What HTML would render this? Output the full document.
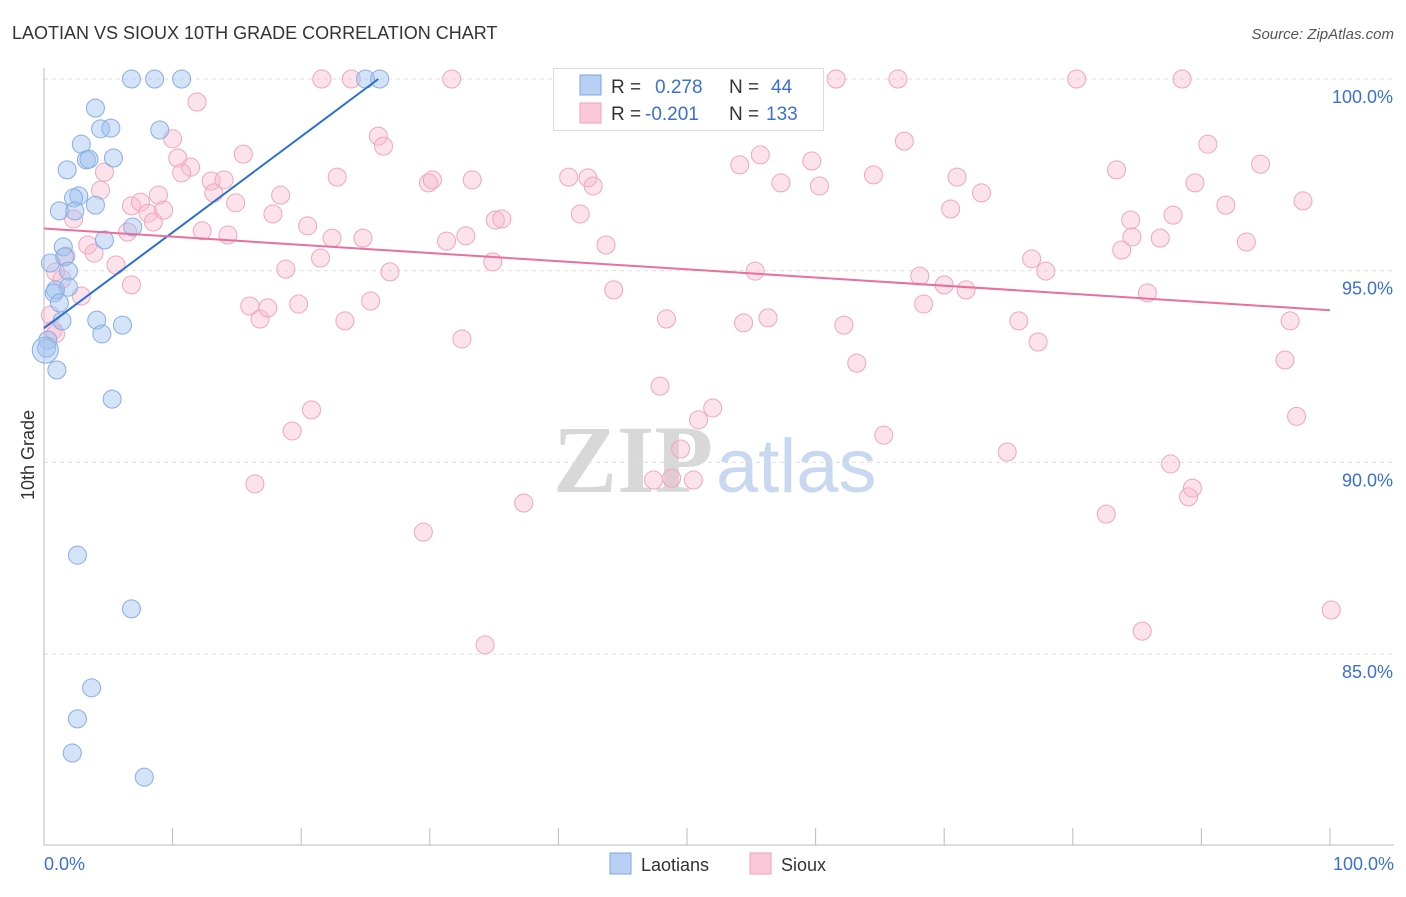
<!DOCTYPE html>
<html><head><meta charset="utf-8"><style>
body{margin:0;background:#fff;font-family:"Liberation Sans",sans-serif}
</style></head><body>
<svg width="1406" height="892" xmlns="http://www.w3.org/2000/svg" id="chart" font-family="Liberation Sans, sans-serif">
<text x="12" y="39" font-size="18" fill="#333">LAOTIAN VS SIOUX 10TH GRADE CORRELATION CHART</text>
<text x="1394" y="39" font-size="15" fill="#555" font-style="italic" text-anchor="end">Source: ZipAtlas.com</text>
<g>
<text x="553" y="492" font-size="96" fill="#d8d8d8" font-family="Liberation Serif, serif" font-weight="bold">ZIP</text>
<text x="716" y="492" font-size="76" fill="#c8d8f0">atlas</text>
</g>
<g id="grid"></g>
<g id="axes"></g>
<g id="pink"></g>
<g id="blue"></g>
<g id="trends"></g>
<text transform="translate(34,455) rotate(-90)" font-size="18" fill="#333" text-anchor="middle">10th Grade</text>
<text x="44" y="870" font-size="18" fill="#3a70d0">0.0%</text>
<text x="1394" y="870" font-size="18" fill="#3a70d0" text-anchor="end">100.0%</text>
<g>
<rect x="553.5" y="68.5" width="270" height="62" fill="#fff" stroke="#ddd"/>
<rect x="580" y="75" width="21" height="20" fill="#b8d0f4" stroke="#7aa6e0"/>
<rect x="580" y="103" width="21" height="20" fill="#fac8d8" stroke="#f0a0b8"/>
<text x="611" y="93" font-size="19" fill="#333">R =</text>
<text x="655" y="93" font-size="19" fill="#3a70d0">0.278</text>
<text x="729" y="93" font-size="19" fill="#333">N =</text>
<text x="771" y="93" font-size="19" fill="#3a70d0">44</text>
<text x="611" y="120" font-size="19" fill="#333">R =</text>
<text x="645" y="120" font-size="19" fill="#3a70d0">-0.201</text>
<text x="729" y="120" font-size="19" fill="#333">N =</text>
<text x="766" y="120" font-size="19" fill="#3a70d0">133</text>
</g>
<g>
<rect x="610" y="853" width="21" height="21" fill="#b8d0f4" stroke="#7aa6e0"/>
<text x="641" y="871" font-size="18" fill="#333">Laotians</text>
<rect x="750" y="853" width="21" height="21" fill="#fac8d8" stroke="#f0a0b8"/>
<text x="781" y="871" font-size="18" fill="#333">Sioux</text>
</g>
</svg>
<script>
const yTicks=[100,95,90,85];
const yTickLabels=["100.0%","95.0%","90.0%","85.0%"];
const xTicks=[0,10,20,30,40,50,60,70,80,90,100];
const blueX=[6.8,8.6,10.7,25.0,26.1,4.0,4.4,5.2,9.0,2.9,3.3,3.5,5.4,1.8,2.7,2.3,1.2,2.4,4.0,6.9,4.7,1.5,1.6,0.5,1.9,0.9,1.9,0.8,1.2,1.4,4.1,6.1,4.5,0.3,0.2,1.0,5.3,2.6,6.8,3.7,2.6,2.2,7.8,0.1];
const blueY=[100,100,100,100,100,99.24,98.70,98.72,98.67,98.30,97.89,97.91,97.94,97.63,96.95,96.90,96.56,96.56,96.71,96.14,95.80,95.62,95.36,95.20,94.99,94.50,94.57,94.42,94.16,93.69,93.71,93.58,93.35,93.19,92.98,92.41,91.65,87.58,86.18,84.12,83.31,82.42,81.79,92.93];
const pinkX=[21.6,23.9,31.7,61.6,66.4,80.3,88.5,11.9,26.0,26.4,10.0,15.5,10.4,11.4,10.7,4.7,4.4,8.9,6.8,7.5,8.1,9.3,8.5,6.5,12.3,14.3,2.3,3.4,3.9,1.7,5.6,0.9,1.4,6.8,2.9,13.0,14.0,13.2,14.9,18.4,17.8,20.5,22.4,24.8,22.8,29.9,30.2,33.3,35.1,35.6,31.3,32.8,21.5,18.8,26.9,34.9,16.0,16.8,17.4,19.8,23.4,25.4,20.8,19.3,16.4,32.5,29.5,37.3,34.3,40.8,42.3,42.7,41.7,43.7,44.3,48.4,47.9,50.9,52.0,49.5,47.4,48.8,50.5,54.1,55.7,57.3,59.7,60.3,55.3,54.4,56.3,62.2,63.2,65.3,64.5,66.9,70.5,71.0,72.9,68.1,70.0,71.7,68.4,75.8,77.3,76.8,77.9,74.9,83.4,84.5,83.8,84.6,86.8,85.8,82.6,85.4,87.6,89.0,89.3,87.8,89.5,90.5,91.9,93.5,94.6,97.9,96.9,96.5,97.4,100.1,0.5,0.7,0.9];
const pinkY=[100,100,100,100,100,100,100,99.40,98.51,98.25,98.44,98.04,97.94,97.70,97.55,97.57,97.10,96.97,96.69,96.79,96.50,96.58,96.27,96.01,96.04,95.93,96.35,95.67,95.46,95.38,95.15,94.97,94.78,94.63,94.34,97.34,97.37,97.03,96.77,96.97,96.48,96.17,95.85,95.85,97.44,97.29,97.37,97.37,96.32,96.35,95.77,95.91,95.33,95.04,94.97,95.23,94.08,93.74,94.03,94.13,93.69,94.21,91.37,90.82,89.44,93.22,88.18,88.94,85.24,97.44,97.42,97.21,96.48,95.67,94.50,93.74,91.99,91.11,91.42,90.35,89.54,89.59,89.54,97.76,98.02,97.29,97.86,97.21,94.99,93.64,93.77,93.58,92.59,90.71,97.50,98.38,96.61,97.44,97.03,94.86,94.63,94.50,94.13,93.69,93.14,95.31,94.99,90.27,97.63,96.32,95.54,95.88,95.85,94.42,88.65,85.60,89.96,89.10,89.33,96.45,97.29,98.30,96.71,95.75,97.78,96.82,93.69,92.67,91.20,86.15,93.84,93.45,93.35];
const blueTrendX=[0,26];
const blueTrendY=[93.5,100];
const pinkTrendX=[0,100];
const pinkTrendY=[96.1,93.97];

const NS="http://www.w3.org/2000/svg";
const X0=44,X1=1330,Y100=79,PX5=191.7;
function sx(v){return X0+(X1-X0)*v/100;}
function sy(v){return Y100+(100-v)/5*PX5;}
function mk(tag,attrs,parent){const e=document.createElementNS(NS,tag);for(const k in attrs)e.setAttribute(k,attrs[k]);parent.appendChild(e);return e;}
const grid=document.getElementById('grid'),axes=document.getElementById('axes');
yTicks.forEach((t,i)=>{
 const l=mk('line',{x1:44,x2:1394,y1:sy(t),y2:sy(t),stroke:'#ddd','stroke-dasharray':'4,4'},grid);
 
 
 const tx=mk('text',{x:1393,y:sy(t)+24,'font-size':18,fill:'#3a70d0','text-anchor':'end'},grid);
 tx.textContent=yTickLabels[i];
 
 
});
const ya=mk('line',{x1:44,x2:44,y1:68,y2:845,stroke:'#bbb'},axes);


const xa=mk('line',{x1:44,x2:1394,y1:845,y2:845,stroke:'#bbb'},axes);


xTicks.forEach(t=>{
 const l=mk('line',{x1:sx(t),x2:sx(t),y1:828,y2:845,stroke:'#bbb'},axes);
 
 
});
const pg=document.getElementById('pink');
pinkX.forEach((v,i)=>{
 const c=mk('circle',{cx:sx(v),cy:sy(pinkY[i]),r:9,fill:'rgba(248,185,205,0.4)',stroke:'#f0a6bd','stroke-width':1},pg);
 
 
});
const bg=document.getElementById('blue');
blueX.forEach((v,i)=>{
 const c=mk('circle',{cx:sx(v),cy:sy(blueY[i]),r:(i==blueX.length-1?13:9),fill:'rgba(160,192,240,0.45)',stroke:'#86aee6','stroke-width':1},bg);
 
 
});
const tg=document.getElementById('trends');
const bt=mk('line',{x1:sx(blueTrendX[0]),y1:sy(blueTrendY[0]),x2:sx(blueTrendX[1]),y2:sy(blueTrendY[1]),stroke:'#2a6fd6','stroke-width':2},tg);


const pt=mk('line',{x1:sx(pinkTrendX[0]),y1:sy(pinkTrendY[0]),x2:sx(pinkTrendX[1]),y2:sy(pinkTrendY[1]),stroke:'#e8709a','stroke-width':2},tg);


</script>
</body></html>
